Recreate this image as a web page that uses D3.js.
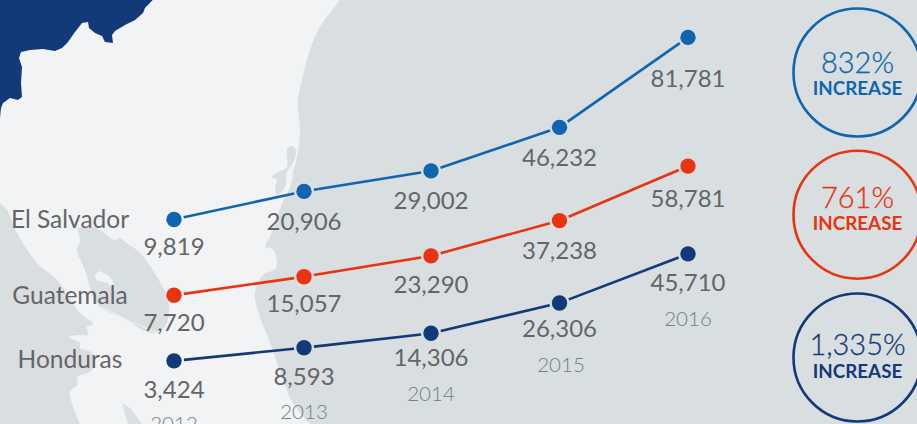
<!DOCTYPE html>
<html><head><meta charset="utf-8">
<script src="https://cdnjs.cloudflare.com/ajax/libs/d3/7.8.5/d3.min.js"></script>
<style>html,body{margin:0;padding:0;background:#d9dee0;overflow:hidden}svg{display:block}text{font-family:Lato,sans-serif}</style>
</head><body><svg id="c" width="917" height="424"></svg>
<script>
const years = ["2012","2013","2014","2015","2016"];
const countries = ["El Salvador","Guatemala","Honduras"];
const elSalvador = [9819,20906,29002,46232,81781];
const guatemala = [7720,15057,23290,37238,58781];
const honduras = [3424,8593,14306,26306,45710];
const increases = ["832%","761%","1,335%"];
const seriesColors = ["#0f65b0","#e83411","#123a78"];

// layout
const W=917,H=424;
const xPos=[174,304,431,559.5,688];
const seriesZero=[244.3,314.8,369.5];
const labelDy=[[36,39,38,39,50],[36,35,37,38,41],[37,37,33,34,37]];
const yearCy=[431,419,401,372,326];
const cCy=[72.5,214.7,357.5];
const svg=d3.select("#c");

// background map
const sea="#d9dee0",land="#f1f3f5";
svg.append("rect").attr("width",W).attr("height",H).attr("fill",sea);
const L=d3.line(), S=d3.line().curve(d3.curveCatmullRom.alpha(.5));
const mapg=svg.append("g");
const coast=[[340,0],[320,27],[310,50],[302,80],[298,100],[300,133],[297,157],[293,173],[291,185],[285,197],[279,212],[270,237],[265,247],[273,249],[276,268],[263,275],[255,293],[260,317],[268,337],[275,357],[283,380],[293,403],[310,424]];
mapg.append("path").attr("d",S(coast)+"L0,424L0,0Z").attr("fill",land);
const pacific=[[0,203],[7,210],[17,233],[37,263],[57,280],[80,313],[93,324],[87,327],[88,335],[78,335],[69,337],[80,343],[80,348],[92,353],[92,370],[78,377],[77,385],[70,392],[80,424]];
mapg.append("path").attr("d",S(pacific)+"L0,424Z").attr("fill",sea);
const gulf=[[77,228],[80,240],[77,250],[85,270],[93,297],[100,307],[127,320],[143,330],[157,333],[167,323],[168,300],[157,277],[140,253],[125,242],[120,238],[114,240],[103,232],[93,227]];
mapg.append("path").attr("d",S(gulf)+"Z").attr("fill",sea);
const isle=[[100,271],[95,275],[97,280],[107,283],[115,290],[113,282],[108,275]];
mapg.append("path").attr("d",S(isle)+"Z").attr("fill",land);
const bay=[[287,148],[292,146],[296,150],[293,163],[287,172],[285,187],[277,195],[275,187],[277,180],[272,177],[277,173],[287,167],[287,157]];
mapg.append("path").attr("d",S(bay)+"Z").attr("fill",sea);
const bay2=[[122,403],[130,408],[142,424],[128,424]];
mapg.append("path").attr("d",L(bay2)+"Z").attr("fill",sea);
const border=[[97,312],[102,307],[127,320],[157,333],[167,328]];
mapg.append("path").attr("d",L(border)).attr("fill","none").attr("stroke",land).attr("stroke-width",1);
const navy=[[152.7,0],[145,8],[143,13],[135,20],[125,25],[115,31],[112,35],[113,43],[105,42],[102,36],[95,33],[89,28],[88,22],[82,23],[75,32],[68,42],[62,48],[55,51],[43,49],[30,50],[21,52],[19,58],[22,67],[21,83],[22,97],[18,100],[10,98],[3,103],[1,108],[0,118]];
mapg.append("path").attr("d",L(navy)+"L0,0Z").attr("fill","#123a78");

// scales
const x=d3.scaleOrdinal().domain(years).range(xPos);
const ys=seriesZero.map(z=>d3.scaleLinear().domain([0,100000]).range([z,z-253]));
const series=[elSalvador,guatemala,honduras];
const gap=10;
series.forEach((vals,i)=>{
  const pts=vals.map((v,j)=>({yr:years[j],v,px:x(years[j]),py:ys[i](v),dy:labelDy[i][j]}));
  const g=svg.append("g");
  const line=d3.line().x(d=>d[0]).y(d=>d[1]);
  d3.pairs(pts).forEach(([a,b])=>{
    const dx=b.px-a.px,dy=b.py-a.py,l=Math.hypot(dx,dy),ux=dx/l,uy=dy/l;
    g.append("path").attr("d",line([[a.px+ux*gap,a.py+uy*gap],[b.px-ux*gap,b.py-uy*gap]]))
      .attr("stroke",seriesColors[i]).attr("stroke-width",2.6).attr("fill","none");
  });
  g.selectAll("circle").data(pts).join("circle").attr("cx",d=>d.px).attr("cy",d=>d.py).attr("r",7.7).attr("fill",seriesColors[i]);
  g.selectAll("text").data(pts).join("text").attr("x",d=>d.px).attr("y",d=>d.py+d.dy)
    .attr("text-anchor","middle").attr("font-size",24).attr("fill","#646567").text(d=>d3.format(",")(d.v));
  svg.append("text").attr("x",70).attr("y",pts[0].py+[9,9,7][i]).attr("text-anchor","middle")
    .attr("font-size",24.5).attr("fill","#646567").text(countries[i]);
  const cy=cCy[i],cg=svg.append("g");
  cg.append("circle").attr("cx",857.5).attr("cy",cy).attr("r",64).attr("fill","none").attr("stroke",seriesColors[i]).attr("stroke-width",2.6);
  cg.append("text").attr("x",857.5).attr("y",cy+[0,-6.5,-2.5][i]).attr("text-anchor","middle").attr("font-size",29).attr("font-weight",300).attr("stroke",seriesColors[i]).attr("stroke-width",0.3).attr("fill",seriesColors[i]).text(increases[i]);
  cg.append("text").attr("x",857.5).attr("y",cy+[22.5,15.5,20][i]).attr("text-anchor","middle").attr("font-size",18.8).attr("font-weight",700).attr("fill",seriesColors[i]).text("INCREASE");
});
svg.append("g").selectAll("text").data(years).join("text").attr("x",d=>x(d)+(d==="2015"?1.5:0)).attr("y",(d,i)=>yearCy[i])
  .attr("text-anchor","middle").attr("font-size",20.5).attr("font-weight",300).attr("fill","#6f8280").text(d=>d);
</script></body></html>
